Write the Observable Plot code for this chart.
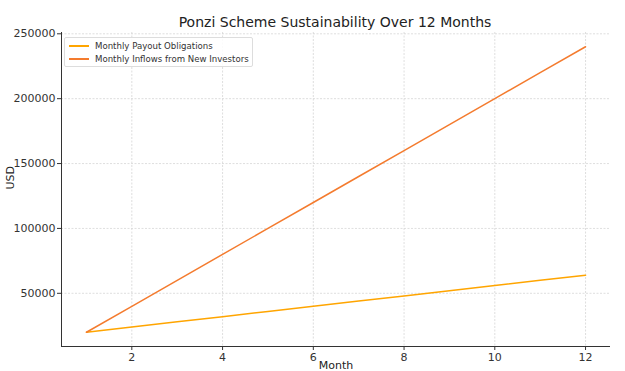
<!DOCTYPE html>
<html>
<head>
<meta charset="utf-8">
<script src="https://cdn.jsdelivr.net/npm/d3@7"></script>
<script src="https://cdn.jsdelivr.net/npm/@observablehq/plot@0.6"></script>
<style>
  body { margin: 0; background: white; }
  #wrap { position: relative; width: 625px; height: 371px; overflow: hidden; font-family: "DejaVu Sans", sans-serif; }
  #title { position: absolute; left: 0; width: 670px; top: 14px; text-align: center; font-size: 14px; color: #222; white-space: nowrap; }
  #legend { position: absolute; left: 64px; top: 37px; width: 187px; height: 28px; border: 1px solid #ddd; border-radius: 2px; background: rgba(255,255,255,0.85); font-size: 8.6px; color: #333; }
  .row { position: absolute; left: 4px; height: 12px; display: flex; align-items: center; white-space: nowrap; }
  .sw { width: 20px; height: 1.5px; margin-right: 6px; }
</style>
</head>
<body>
<div id="wrap">
  <div id="chart"></div>
  <div id="title">Ponzi Scheme Sustainability Over 12 Months</div>
  <div id="legend"></div>
</div>
<script>
const months = [1, 2, 3, 4, 5, 6, 7, 8, 9, 10, 11, 12];
const payouts = [20000, 24000, 28000, 32000, 36000, 40000, 44000, 48000, 52000, 56000, 60000, 64000];
const inflows = [20000, 40000, 60000, 80000, 100000, 120000, 140000, 160000, 180000, 200000, 220000, 240000];
const seriesNames = ["Monthly Payout Obligations", "Monthly Inflows from New Investors"];
const seriesColors = ["#FFA500", "#F47B2E"];
const xTicks = [2, 4, 6, 8, 10, 12];
const yTicks = [50000, 100000, 150000, 200000, 250000];

const data = [];
months.forEach((m, i) => data.push({month: m, value: payouts[i], series: seriesNames[0]}));
months.forEach((m, i) => data.push({month: m, value: inflows[i], series: seriesNames[1]}));

const xDom = [0.45, 12.55];
const yDom = [9000, 251000];

const chart = Plot.plot({
  width: 625,
  height: 371,
  marginTop: 32,
  marginBottom: 25,
  marginLeft: 61,
  marginRight: 15,
  style: {fontFamily: "DejaVu Sans, sans-serif", fontSize: "11px", color: "#333", background: "white"},
  x: {domain: xDom, label: null},
  y: {domain: yDom, label: null},
  color: {domain: seriesNames, range: seriesColors},
  marks: [
    Plot.gridX(xTicks, {stroke: "#d6d6d6", strokeOpacity: 1, strokeDasharray: "2,1.5", strokeWidth: 0.8}),
    Plot.gridY(yTicks, {stroke: "#d6d6d6", strokeOpacity: 1, strokeDasharray: "2,1.5", strokeWidth: 0.8}),
    Plot.axisX(xTicks, {tickSize: 4, tickPadding: 3, label: null, tickFormat: d => String(d), stroke: "#333"}),
    Plot.axisY(yTicks, {tickSize: 4, tickPadding: 2, label: null, tickFormat: d => String(d), stroke: "#333"}),
    Plot.ruleX([xDom[0]], {stroke: "#333", strokeWidth: 1}),
    Plot.ruleY([yDom[0]], {stroke: "#333", strokeWidth: 1}),
    Plot.line(data, {x: "month", y: "value", z: "series", stroke: "series", strokeWidth: 1.5}),
    Plot.text(["Month"], {frameAnchor: "bottom", dy: 22, fontSize: 11, fill: "#222"}),
    Plot.text(["USD"], {frameAnchor: "left", dx: -51, rotate: -90, fontSize: 11, fill: "#222"})
  ]
});
document.getElementById("chart").appendChild(chart);

const legend = document.getElementById("legend");
seriesNames.forEach((name, i) => {
  const row = document.createElement("div");
  row.className = "row";
  row.style.top = (2 + i * 13) + "px";
  const sw = document.createElement("div");
  sw.className = "sw";
  sw.style.background = seriesColors[i];
  const t = document.createElement("span");
  t.textContent = name;
  row.appendChild(sw);
  row.appendChild(t);
  legend.appendChild(row);
});
</script>
</body>
</html>
